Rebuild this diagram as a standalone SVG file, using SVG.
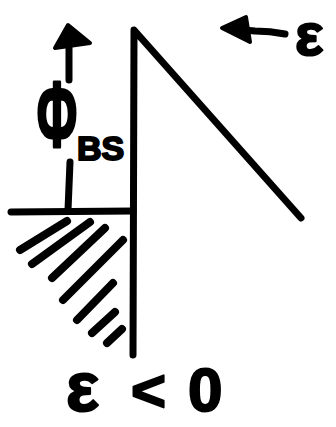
<svg xmlns="http://www.w3.org/2000/svg" width="336" height="427" viewBox="0 0 336 427">
<style>
.ln{fill:none;stroke:#000;stroke-width:7;stroke-linecap:round;stroke-linejoin:round}
.ht{fill:none;stroke:#000;stroke-width:8;stroke-linecap:round}
.tx{font-family:"Liberation Sans",Arial,sans-serif;font-weight:bold;fill:#000;stroke:#000;stroke-width:2;stroke-linejoin:round}
</style>
<rect width="336" height="427" fill="#fff"/>
<g id="connectors">
<path class="ln" d="M69,80 L69,40" stroke-width="9"/>
<path d="M68,25 L55,48 L90,43 Z" fill="#000" stroke="#000" stroke-width="4" stroke-linejoin="round"/>
<path class="ln" d="M70,162 L68,210" stroke-width="8"/>
<path class="ln" d="M285,34 Q270,31 255,31 L232,29" stroke-width="8"/>
<path d="M222,28 L246,17 L250,42 Z" fill="#000" stroke="#000" stroke-width="4" stroke-linejoin="round"/>
</g>
<g id="wall">
<path class="ln" d="M133,355 L134,30 L301,218"/>
<path class="ln" d="M11,212 L133,211"/>
<path class="ht" d="M67,221 L20,250"/>
<path class="ht" d="M90,222 L32,264"/>
<path class="ht" d="M105,228 L52,278"/>
<path class="ht" d="M123,240 L63,300"/>
<path class="ht" d="M113,283 L77,320"/>
<path class="ht" d="M115,312 L92,333"/>
<path class="ht" d="M122,329 L107,343"/>
</g>
<g id="phi">
<text class="tx" transform="translate(57,147) scale(0.82,1.54)" font-size="60" text-anchor="middle">Φ</text>
<text class="tx" x="77" y="160" font-size="34">BS</text>
</g>
<g id="eps-top">
<text class="tx" x="295" y="55" font-size="60">ε</text>
</g>
<g id="eps-bottom">
<text class="tx" y="411" font-size="70"><tspan x="66">ε</tspan><tspan x="131" font-size="60">&lt;</tspan><tspan x="188" font-size="62">0</tspan></text>
</g>
</svg>
